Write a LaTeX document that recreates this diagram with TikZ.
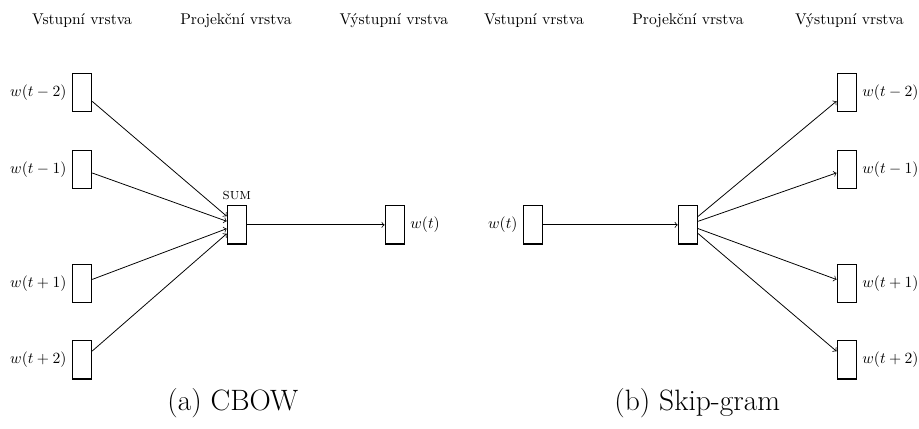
\documentclass[tikz,border=0pt]{standalone}
\usepackage{tikz}
\usetikzlibrary{positioning, arrows}
\tikzstyle{unit} = [rectangle, minimum width=0.43cm, minimum height=0.86cm, inner sep=0pt, draw=black, line width=0.8pt]
\tikzstyle{arrow} = [->, line width=0.5pt]
\tikzstyle{caption} = [font=\fontsize{18.9}{22}\selectfont]

\begin{document}
\begin{tikzpicture}[node distance=0.84cm]

    \useasboundingbox (0,0) rectangle (20.72,-9.65);

    % Headers
    \node (hin1)   at (1.85,-0.47) {Vstupní vrstva};
    \node (hproj1) at (5.32,-0.47) {Projekční vrstva};
    \node (hout1)  at (8.88,-0.47) {Výstupní vrstva};
    \node (hin2)   at (12.04,-0.47) {Vstupní vrstva};
    \node (hproj2) at (15.51,-0.47) {Projekční vrstva};
    \node (hout2)  at (19.15,-0.47) {Výstupní vrstva};

    % CBOW
    \node (cin1) [unit, label=left:$w(t-2)$] at (1.85,-2.09) {};
    \node (cin2) [unit, label=left:$w(t-1)$, below=of cin1] {};
    \node (cin3) [unit, label=left:$w(t+1)$, below=1.68cm of cin2] {};
    \node (cin4) [unit, label=left:$w(t+2)$, below=of cin3] {};
    \node (sum)  [unit, label=above:\textsc{sum}] at (5.34,-5.07) {};
    \node (cout) [unit, label=right:$w(t)$] at (8.90,-5.07) {};

    \draw [arrow] (cin1) -- (sum);
    \draw [arrow] (cin2) -- (sum);
    \draw [arrow] (cin3) -- (sum);
    \draw [arrow] (cin4) -- (sum);
    \draw [arrow] (sum) -- (cout);

    % Skip-gram
    \node (sin)   [unit, label=left:$w(t)$] at (12.02,-5.07) {};
    \node (sproj) [unit] at (15.51,-5.07) {};
    \node (sout1) [unit, label=right:$w(t-2)$] at (19.09,-2.09) {};
    \node (sout2) [unit, label=right:$w(t-1)$, below=of sout1] {};
    \node (sout3) [unit, label=right:$w(t+1)$, below=1.68cm of sout2] {};
    \node (sout4) [unit, label=right:$w(t+2)$, below=of sout3] {};

    \draw [arrow] (sin) -- (sproj);
    \draw [arrow] (sproj) -- (sout1);
    \draw [arrow] (sproj) -- (sout2);
    \draw [arrow] (sproj) -- (sout3);
    \draw [arrow] (sproj) -- (sout4);

    % Captions
    \node (capa) [caption] at (5.25,-9.09) {(a) CBOW};
    \node (capb) [caption] at (15.72,-9.09) {(b) Skip-gram};

\end{tikzpicture}
\end{document}
